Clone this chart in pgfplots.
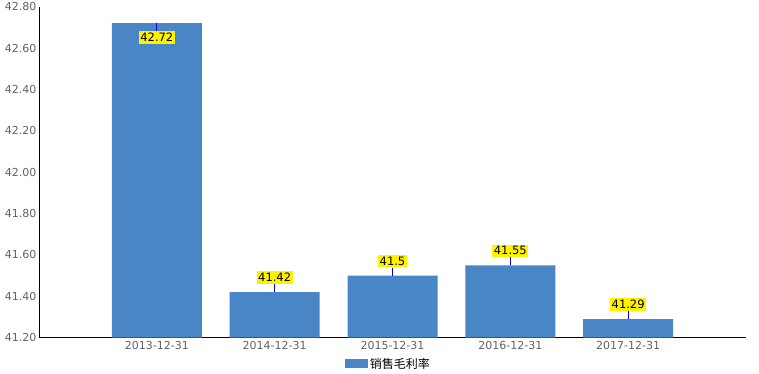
\documentclass[border=0pt]{standalone}
\usepackage{pgfplots}
\pgfplotsset{compat=1.18}
\usepackage{fontspec}
\setmainfont{DejaVu Sans}
\newfontfamily\cjk{Noto Sans CJK SC}
\definecolor{barblue}{HTML}{4A86C5}
\definecolor{tickgray}{HTML}{606070}
\begin{document}
\begin{tikzpicture}[x=1pt,y=1pt]
\path (0,0) rectangle (759,373);
\begin{axis}[
  at={(39pt,36pt)}, anchor=south west,
  scale only axis, width=707pt, height=331pt,
  xmin=-1, xmax=5, ymin=41.2, ymax=42.8,
  axis x line=bottom, axis y line=left,
  axis line style={black, -},
  xtick={0,1,2,3,4},
  xticklabels={2013-12-31,2014-12-31,2015-12-31,2016-12-31,2017-12-31},
  ytick={41.2,41.4,41.6,41.8,42.0,42.2,42.4,42.6,42.8},
  major tick length=0,
  /pgf/number format/assume math mode=true,
  yticklabel style={/pgf/number format/fixed,/pgf/number format/fixed zerofill,/pgf/number format/precision=2, font=\fontsize{11}{13}\selectfont, text=tickgray, inner sep=2.5pt},
  xticklabel style={font=\fontsize{11}{13}\selectfont, text=tickgray, inner sep=3.5pt},
  legend style={at={(0.494,-0.055)}, anchor=north, draw=none, font=\fontsize{12}{14}\selectfont\cjk, inner sep=0pt},
  legend cell align=left,
  clip=false,
]
\addplot[ybar, bar width=90pt, fill=barblue, draw=none,
  area legend,
  legend image code/.code={\fill[barblue] (0pt,-4.5pt) rectangle (23pt,4.5pt);}]
  coordinates {(0,42.72) (1,41.42) (2,41.5) (3,41.55) (4,41.29)};
\addlegendentry{销售毛利率}
% connector lines (plus direction)
\addplot[draw=none, mark=none, forget plot,
  error bars/.cd, y dir=plus, y explicit, error mark=none,
  error bar style={blue!80!black, line width=0.8pt}]
  coordinates {(1,41.42) +- (0,0.039) (2,41.5) +- (0,0.039) (3,41.55) +- (0,0.039) (4,41.29) +- (0,0.039)};
\addplot[draw=none, mark=none, forget plot,
  error bars/.cd, y dir=minus, y explicit, error mark=none,
  error bar style={blue!80!black, line width=0.8pt}]
  coordinates {(0,42.72) +- (0,0.039)};
% labels
\addplot[draw=none, mark=none, forget plot,
  nodes near coords, point meta=explicit symbolic,
  every node near coord/.style={anchor=south, yshift=8pt, fill=yellow, text=black, inner xsep=1.5pt, inner ysep=2pt, font=\fontsize{11.5}{13}\selectfont}]
  coordinates {(1,41.42) [41.42] (2,41.5) [41.5] (3,41.55) [41.55] (4,41.29) [41.29]};
\addplot[draw=none, mark=none, forget plot,
  nodes near coords, point meta=explicit symbolic,
  every node near coord/.style={anchor=north, yshift=-8pt, fill=yellow, text=black, inner xsep=1.5pt, inner ysep=2pt, font=\fontsize{11.5}{13}\selectfont}]
  coordinates {(0,42.72) [42.72]};
\end{axis}
\end{tikzpicture}
\end{document}
